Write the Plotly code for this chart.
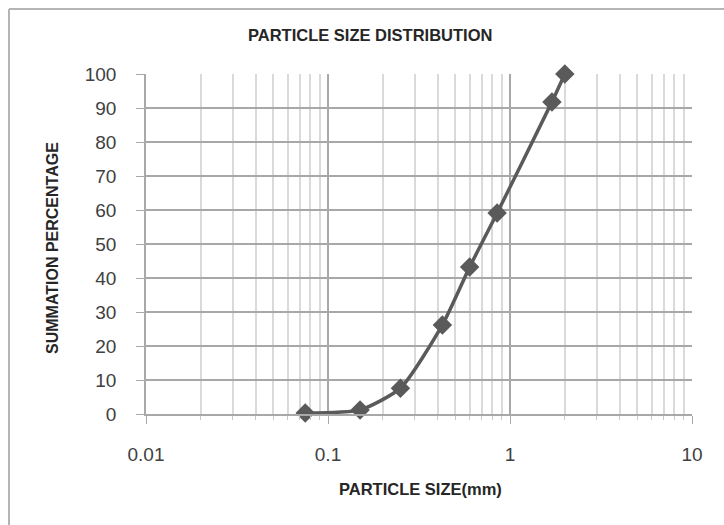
import plotly.graph_objects as go

particle_size_mm = [0.075, 0.15, 0.25, 0.425, 0.6, 0.85, 1.7, 2.0]
summation_pct = [0.3, 1.2, 7.6, 26.2, 43.2, 59.1, 91.8, 100]
x_tick_vals = [0.01, 0.1, 1, 10]
x_tick_text = ["0.01", "0.1", "1", "10"]
y_tick_vals = list(range(0, 101, 10))

W, H = 724, 525
L, R, T, B = 146, 32, 74, 111
pw, ph = W - L - R, H - T - B

def px(xp):
    return (xp - L) / pw

def py(yp):
    return (H - B - yp) / ph

line_col = "#5a5a5a"
narrow = "Liberation Sans Narrow, Arial Narrow, Liberation Sans, sans-serif"

fig = go.Figure()
fig.add_trace(go.Scatter(
    x=particle_size_mm, y=summation_pct,
    mode="lines+markers",
    line=dict(color=line_col, width=3.5, shape="spline", smoothing=0.6),
    marker=dict(symbol="diamond", size=15, color=line_col),
    cliponaxis=False, showlegend=False,
))

fig.update_layout(
    width=W, height=H,
    margin=dict(l=L, r=R, t=T, b=B),
    paper_bgcolor="white", plot_bgcolor="white",
    font=dict(family="Liberation Sans, Arial, sans-serif", color="#404040"),
    xaxis=dict(
        type="log", range=[-2, 1],
        tickvals=x_tick_vals, ticktext=x_tick_text,
        showgrid=True, gridcolor="#a8a8a8", gridwidth=1.5,
        minor=dict(dtick="D1", showgrid=True, gridcolor="#dadada", gridwidth=1.5,
                   ticks="outside", ticklen=4, tickcolor="#c8c8c8"),
        ticks="outside", ticklen=8, tickcolor="#a8a8a8",
        showline=True, linecolor="#a8a8a8", linewidth=1.5,
        tickfont=dict(size=19, color="#404040"),
        ticklabelstandoff=14,
        zeroline=False,
    ),
    yaxis=dict(
        range=[0, 100], tickvals=y_tick_vals,
        showgrid=True, gridcolor="#a8a8a8", gridwidth=1.5,
        ticks="outside", ticklen=8, tickcolor="#a8a8a8",
        showline=True, linecolor="#a8a8a8", linewidth=1.5,
        tickfont=dict(size=19, color="#404040"),
        ticklabelstandoff=16,
        zeroline=False,
    ),
)

# Titles
fig.add_annotation(text="<b>PARTICLE SIZE DISTRIBUTION</b>", xref="paper", yref="paper",
                   x=px(370), y=py(35), xanchor="center", yanchor="middle", showarrow=False,
                   font=dict(size=16.5, color="#262626", family=narrow))
fig.add_annotation(text="<b>PARTICLE SIZE(mm)</b>", xref="paper", yref="paper",
                   x=px(420), y=py(489), xanchor="center", yanchor="middle", showarrow=False,
                   font=dict(size=16.5, color="#262626", family=narrow))
fig.add_annotation(text="<b>SUMMATION PERCENTAGE</b>", xref="paper", yref="paper",
                   x=px(52), y=py(248), xanchor="center", yanchor="middle", showarrow=False,
                   textangle=-90,
                   font=dict(size=16, color="#262626", family=narrow))

# Outer chart frame (left and top edges)
fig.add_shape(type="line", xref="paper", yref="paper",
              x0=px(9), x1=px(9), y0=py(9), y1=py(540),
              line=dict(color="#b4b4b4", width=2))
fig.add_shape(type="line", xref="paper", yref="paper",
              x0=px(9), x1=px(740), y0=py(9), y1=py(9),
              line=dict(color="#b4b4b4", width=2))

fig.write_html("out.html")
